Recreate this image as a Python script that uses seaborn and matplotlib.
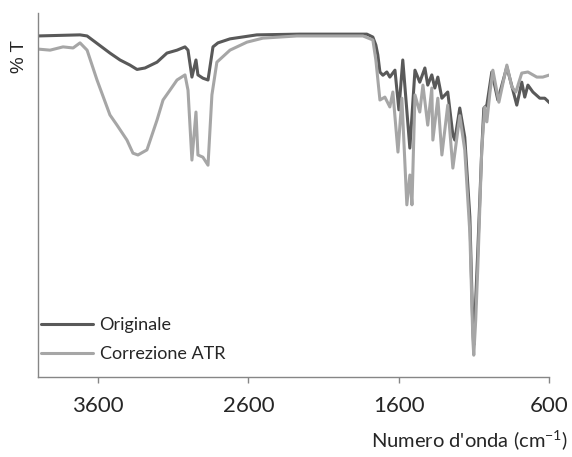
import pandas as pd
import seaborn as sns
import matplotlib.pyplot as plt

# IR spectrum (wavenumber in cm-1, %T on a 0-100 scale)
wn_orig = [4000, 3719, 3672, 3520, 3453, 3387, 3340, 3287, 3207, 3141, 3074, 3021, 3001,
           2975, 2948, 2935, 2902, 2868, 2835, 2802, 2722, 2543, 2257, 1812, 1772, 1752,
           1739, 1725, 1705, 1679, 1659, 1625, 1599, 1573, 1526, 1492, 1460, 1426, 1407,
           1380, 1360, 1340, 1313, 1274, 1240, 1227, 1194, 1161, 1127, 1107, 1101, 1088,
           1074, 1048, 1034, 1014, 981, 941, 881, 815, 782, 762, 741, 708, 662, 629, 596]
t_orig = [93.7, 94.0, 93.7, 89.0, 87.1, 85.7, 84.5, 84.9, 86.5, 89.0, 89.8, 90.7, 89.8,
          82.4, 87.1, 83.0, 82.1, 81.6, 90.7, 91.8, 92.9, 94.0, 94.2, 94.2, 93.4, 91.2,
          88.5, 83.8, 82.9, 83.8, 82.4, 84.3, 73.4, 87.1, 62.9, 84.3, 81.0, 84.9, 80.2,
          83.0, 79.4, 82.4, 76.6, 78.3, 66.5, 65.1, 73.9, 65.9, 44.0, 12.9, 8.8, 21.2,
          34.9, 62.4, 73.9, 74.7, 83.8, 76.1, 85.2, 74.7, 81.0, 76.9, 80.2, 78.3, 76.6, 76.6, 75.3]

wn_atr = [4000, 3918, 3832, 3765, 3719, 3672, 3606, 3520, 3473, 3407, 3367, 3334, 3274,
          3207, 3167, 3121, 3074, 3021, 3001, 2975, 2948, 2935, 2902, 2868, 2842, 2809,
          2722, 2609, 2503, 2277, 1838, 1772, 1752, 1725, 1692, 1659, 1639, 1605, 1579,
          1546, 1526, 1512, 1492, 1460, 1439, 1407, 1380, 1373, 1340, 1313, 1274, 1240,
          1194, 1161, 1127, 1107, 1101, 1088, 1074, 1048, 1028, 1014, 994, 974, 934, 881,
          848, 821, 782, 741, 682, 642, 596]
t_atr = [90.1, 89.8, 90.7, 90.4, 91.8, 89.8, 81.6, 72.0, 69.2, 65.1, 61.5, 61.0, 62.4,
         70.6, 76.1, 78.8, 81.6, 83.0, 78.8, 59.6, 72.8, 61.0, 60.4, 58.2, 77.5, 86.5,
         89.8, 92.0, 93.1, 93.7, 93.7, 92.6, 87.1, 76.1, 76.9, 74.2, 78.3, 61.8, 76.6,
         47.3, 55.5, 47.3, 77.5, 72.8, 80.2, 69.2, 79.4, 65.1, 76.6, 61.0, 74.7, 57.4,
         71.8, 62.4, 39.6, 10.2, 6.0, 15.7, 30.2, 62.4, 74.2, 70.1, 78.0, 84.3, 75.5, 85.7,
         79.7, 78.3, 83.5, 83.8, 82.4, 82.4, 83.0]

labels = ["Originale", "Correzione ATR"]
x_ticks = [3600, 2600, 1600, 600]

df_orig = pd.DataFrame({"wn": wn_orig, "T": t_orig})
df_atr = pd.DataFrame({"wn": wn_atr, "T": t_atr})

sns.set_style("white")
plt.rcParams["font.family"] = ["Lato", "DejaVu Sans"]
plt.rcParams["mathtext.fontset"] = "custom"
plt.rcParams["mathtext.rm"] = "Lato"

fig = plt.figure(figsize=(5.72, 4.57), dpi=100)
ax = fig.add_axes([0.066, 0.175, 0.894, 0.7965])

sns.lineplot(data=df_orig, x="wn", y="T", ax=ax, color="#595959", lw=2.2,
             estimator=None, sort=False, label=labels[0])
sns.lineplot(data=df_atr, x="wn", y="T", ax=ax, color="#a6a6a6", lw=2.2,
             estimator=None, sort=False, label=labels[1])

ax.set_xlim(4000, 600)
ax.set_ylim(0, 100)
ax.set_xticks(x_ticks)
ax.set_xticklabels([str(t) for t in x_ticks], fontsize=16)
ax.set_yticks([])
ax.set_xlabel("")
ax.set_ylabel("")
ax.tick_params(axis="x", direction="out", length=4, width=1, color="#868686",
               bottom=True, pad=10)

for side in ["top", "right"]:
    ax.spines[side].set_visible(False)
for side in ["left", "bottom"]:
    ax.spines[side].set_color("#868686")
    ax.spines[side].set_linewidth(1)

ax.legend(loc="lower left", bbox_to_anchor=(0.006, 0.04), frameon=False, fontsize=13,
          handlelength=2.9, handletextpad=0.35, labelspacing=0.75,
          borderpad=0, borderaxespad=0)

fig.text(19 / 572, 1 - 57 / 457, "% T", rotation=90, ha="center", va="center",
         fontsize=13.5, family=["Liberation Sans", "DejaVu Sans"])
fig.text(568 / 572, 1 - 441 / 457, r"Numero d'onda (cm$^{-1}$)", ha="right", va="center",
         fontsize=14.5)

fig.savefig("out.png", dpi=100)
